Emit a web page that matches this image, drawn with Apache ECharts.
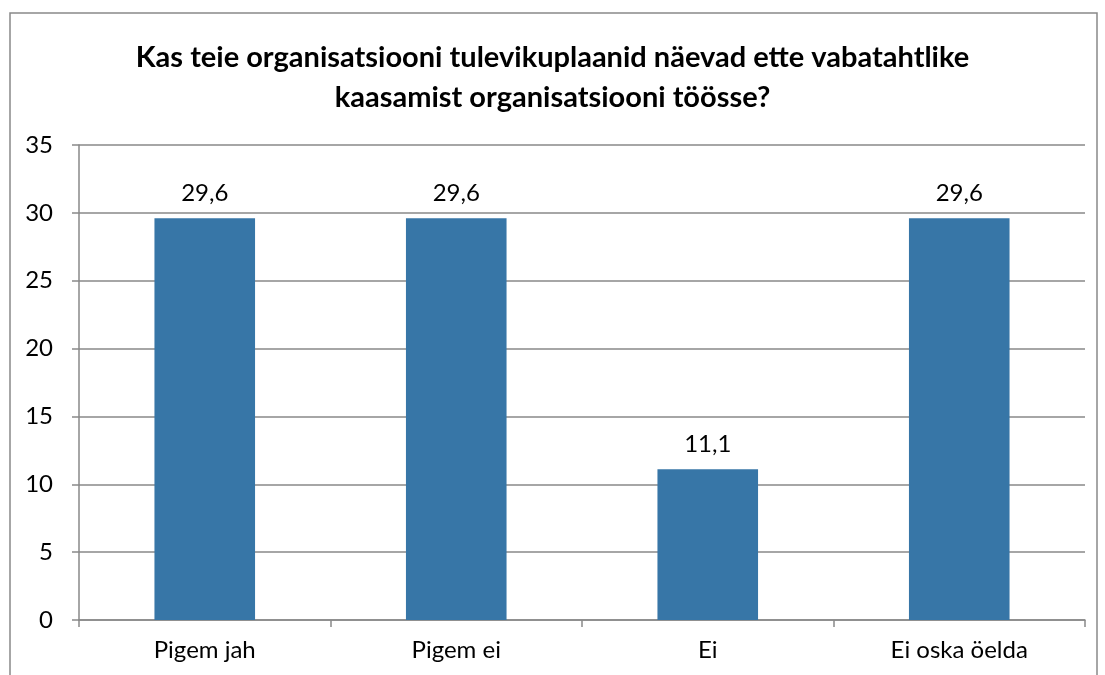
<!DOCTYPE html>
<html>
<head>
<meta charset="utf-8">
<script src="https://cdn.jsdelivr.net/npm/echarts@6/dist/echarts.min.js"></script>
<style>
  html, body { margin: 0; padding: 0; background: #fff; }
  #chart { width: 1105px; height: 675px; }
</style>
</head>
<body>
<div id="chart"></div>
<script>
const categories = ['Pigem jah', 'Pigem ei', 'Ei', 'Ei oska öelda']
const values = [29.6, 29.6, 11.1, 29.6]
const titleText = 'Kas teie organisatsiooni tulevikuplaanid näevad ette vabatahtlike\nkaasamist organisatsiooni töösse?'

const font = 'Lato, "Open Sans", sans-serif'
const chart = echarts.init(document.getElementById('chart'))

const option = {
  animation: false,
  textStyle: { fontFamily: font },
  graphic: [{
    type: 'rect',
    shape: { x: 10, y: 13, width: 1087, height: 700 },
    style: { fill: 'none', stroke: '#898989', lineWidth: 1.5 },
    silent: true
  }],
  title: {
    text: titleText,
    left: 'center',
    top: 33,
    textStyle: {
      fontFamily: font,
      fontSize: 29,
      fontWeight: 'bold',
      color: '#000',
      lineHeight: 40
    }
  },
  grid: { left: 79, right: 20, top: 145, bottom: 55 },
  xAxis: {
    type: 'category',
    data: categories,
    axisLine: { lineStyle: { color: '#898989', width: 1.5 } },
    axisTick: { show: true, length: 7, interval: 0, lineStyle: { color: '#898989', width: 1.5 } },
    axisLabel: { color: '#000', fontSize: 24, margin: 18, fontFamily: font }
  },
  yAxis: {
    type: 'value',
    min: 0,
    max: 35,
    interval: 5,
    axisLine: { show: true, lineStyle: { color: '#898989', width: 1.5 } },
    axisTick: { show: true, length: 7, lineStyle: { color: '#898989', width: 1.5 } },
    axisLabel: { color: '#000', fontSize: 24, margin: 26, fontFamily: font },
    splitLine: { lineStyle: { color: '#898989', width: 1.5 } }
  },
  series: [{
    type: 'bar',
    data: values,
    barWidth: '40%',
    itemStyle: { color: '#3776a7' },
    label: {
      show: true,
      position: 'top',
      distance: 13,
      color: '#000',
      fontSize: 24,
      fontFamily: font,
      formatter: p => String(p.value).replace('.', ',')
    }
  }]
}

chart.setOption(option)
</script>
</body>
</html>
